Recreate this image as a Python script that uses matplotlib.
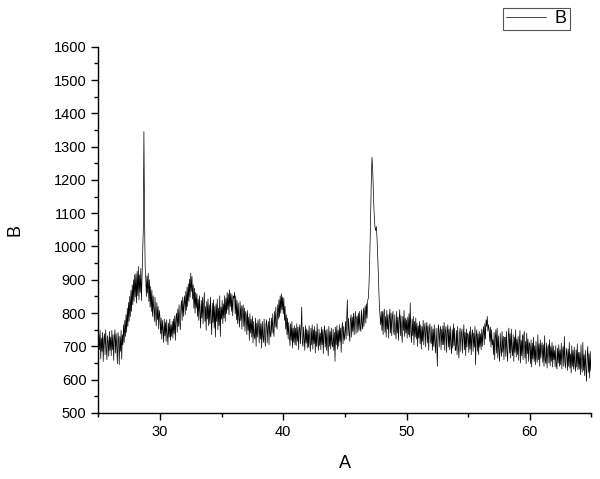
import numpy as np
import matplotlib.pyplot as plt
from matplotlib.ticker import MultipleLocator

plt.rcParams['font.family'] = ['Liberation Sans', 'DejaVu Sans']

# 2-theta grid, 0.05 deg steps from 25 to 65
start_A = 25.0
step_A = 0.05

# intensity, one row per degree
B_25_33 = [
    680, 735, 690, 748, 662, 725, 685, 742, 655, 720, 738, 675, 750, 695, 660, 732, 712, 670, 745, 688,
    728, 672, 748, 690, 735, 658, 722, 750, 680, 738, 700, 648, 742, 718, 645, 730, 685, 748, 662, 735,
    705, 765, 712, 778, 730, 795, 742, 815, 760, 832, 775, 850, 790, 868, 805, 885, 825, 900, 835, 915,
    848, 918, 830, 925, 852, 940, 840, 915, 862, 935, 838, 905, 965, 1050, 1345, 1100, 940, 905, 850, 912,
    860, 920, 835, 900, 818, 880, 805, 868, 790, 852, 812, 775, 848, 795, 762, 832, 780, 820, 752, 808,
    790, 738, 785, 722, 778, 748, 712, 782, 732, 772, 715, 780, 735, 705, 770, 728, 782, 718, 765, 730,
    775, 725, 782, 738, 792, 718, 785, 800, 742, 812, 760, 825, 772, 750, 818, 838, 778, 848, 790, 830,
    852, 795, 865, 808, 878, 820, 888, 835, 902, 848, 920, 865, 910, 842, 885, 815, 875, 800, 862, 815,
]
B_33_41 = [
    858, 790, 842, 778, 852, 800, 755, 838, 785, 848, 768, 828, 862, 775, 820, 748, 835, 782, 842, 762,
    825, 768, 848, 780, 735, 830, 772, 840, 755, 820, 728, 828, 775, 842, 750, 815, 762, 852, 730, 818,
    782, 838, 768, 828, 785, 852, 775, 845, 798, 862, 810, 858, 795, 870, 820, 860, 805, 855, 792, 850,
    845, 862, 798, 852, 780, 838, 768, 830, 785, 758, 835, 778, 822, 752, 812, 825, 760, 815, 745, 805,
    795, 735, 808, 748, 788, 718, 798, 740, 782, 728, 790, 710, 775, 732, 722, 785, 700, 770, 728, 780,
    760, 710, 782, 722, 768, 695, 775, 730, 712, 782, 725, 700, 768, 780, 710, 758, 775, 705, 785, 735,
    728, 785, 740, 798, 748, 730, 805, 758, 818, 765, 752, 825, 782, 840, 788, 852, 800, 858, 810, 848,
    798, 845, 778, 820, 752, 795, 735, 785, 722, 772, 730, 702, 768, 718, 775, 695, 755, 712, 762, 705,
]
B_41_49 = [
    755, 702, 768, 715, 758, 690, 750, 765, 708, 755, 818, 712, 700, 758, 720, 688, 762, 710, 752, 695,
    748, 698, 762, 712, 685, 755, 705, 765, 692, 750, 708, 760, 680, 745, 700, 768, 715, 688, 752, 702,
    740, 690, 758, 705, 750, 678, 742, 762, 698, 748, 688, 752, 708, 672, 760, 700, 745, 692, 755, 708,
    698, 752, 688, 742, 655, 758, 705, 762, 692, 748, 700, 765, 715, 755, 682, 752, 772, 708, 760, 718,
    735, 775, 722, 788, 840, 732, 785, 740, 715, 780, 795, 728, 788, 745, 800, 735, 780, 805, 738, 785,
    792, 742, 800, 748, 805, 755, 745, 810, 765, 752, 815, 760, 805, 822, 770, 828, 785, 838, 845, 880,
    940, 1020, 1120, 1210, 1268, 1235, 1180, 1120, 1080, 1055, 1048, 1060, 1030, 985, 930, 870, 820, 790, 765, 805,
    748, 805, 735, 798, 812, 742, 790, 728, 808, 752, 795, 725, 785, 812, 740, 800, 732, 788, 805, 745,
]
B_49_57 = [
    735, 795, 748, 722, 805, 740, 788, 718, 782, 810, 732, 792, 745, 712, 790, 748, 808, 730, 785, 740,
    780, 725, 788, 735, 798, 728, 830, 742, 712, 782, 732, 790, 705, 775, 728, 785, 722, 770, 700, 762,
    725, 775, 708, 765, 692, 760, 715, 778, 705, 755, 770, 698, 752, 772, 710, 762, 688, 750, 768, 715,
    708, 760, 688, 752, 700, 765, 712, 680, 755, 705, 640, 750, 765, 698, 742, 760, 690, 752, 705, 762,
    705, 772, 688, 745, 760, 682, 742, 765, 698, 752, 690, 760, 708, 678, 750, 695, 768, 702, 755, 688,
    690, 748, 675, 760, 698, 665, 740, 755, 685, 738, 752, 680, 730, 765, 690, 742, 672, 752, 698, 740,
    735, 682, 745, 692, 758, 675, 732, 750, 685, 740, 698, 760, 645, 732, 750, 685, 738, 675, 745, 698,
    738, 690, 752, 700, 742, 760, 705, 768, 722, 780, 760, 790, 745, 765, 750, 715, 758, 698, 750, 705,
]
B_57_65 = [
    720, 675, 742, 660, 728, 750, 680, 755, 665, 732, 685, 655, 740, 692, 670, 745, 682, 730, 660, 725,
    728, 670, 745, 685, 655, 732, 755, 680, 738, 665, 752, 690, 672, 735, 655, 728, 682, 750, 668, 722,
    675, 730, 658, 712, 748, 650, 718, 672, 735, 660, 728, 745, 665, 715, 648, 740, 678, 722, 655, 712,
    705, 648, 720, 638, 710, 662, 728, 655, 702, 645, 715, 668, 652, 735, 660, 708, 640, 720, 665, 700,
    712, 652, 705, 640, 732, 658, 648, 710, 635, 695, 705, 650, 720, 642, 700, 655, 712, 638, 702, 660,
    688, 638, 702, 645, 632, 695, 650, 705, 640, 690, 645, 710, 632, 685, 700, 640, 730, 652, 635, 695,
    680, 628, 692, 640, 712, 635, 678, 620, 702, 640, 688, 632, 698, 645, 625, 690, 638, 708, 630, 682,
    632, 682, 615, 705, 640, 622, 712, 628, 675, 612, 688, 635, 595, 672, 700, 622, 678, 605, 685, 628,
    625,
]

B = np.array(B_25_33 + B_33_41 + B_41_49 + B_49_57 + B_57_65, dtype=float)
A = start_A + step_A * np.arange(len(B))

fig = plt.figure(figsize=(6, 4.79), dpi=100)
ax = fig.add_axes([0.1638, 0.1378, 0.8220, 0.7647])

ax.plot(A, B, color='black', lw=0.5, label='B')

ax.set_xlim(25, 65)
ax.set_ylim(500, 1600)
ax.xaxis.set_major_locator(MultipleLocator(10))
ax.xaxis.set_minor_locator(MultipleLocator(5))
ax.yaxis.set_major_locator(MultipleLocator(100))
ax.yaxis.set_minor_locator(MultipleLocator(50))

ax.spines['top'].set_visible(False)
ax.spines['right'].set_visible(False)
for s in ('left', 'bottom'):
    ax.spines[s].set_linewidth(1.0)

ax.tick_params(which='major', direction='out', length=5, width=1.0, labelsize=10.5)
ax.tick_params(which='minor', direction='out', length=2.6, width=1.0)

ax.set_xlabel('A', fontsize=13, labelpad=12)
ax.set_ylabel('B', fontsize=13, labelpad=22)

leg = fig.legend(loc='upper right', bbox_to_anchor=(569.5 / 600, 1 - 7.5 / 479),
                 fontsize=13, handlelength=2.2, fancybox=False, framealpha=1,
                 edgecolor='#555555', borderpad=0.15, handletextpad=0.5,
                 borderaxespad=0)
leg.get_frame().set_linewidth(0.8)

fig.savefig('out.png', dpi=100)
